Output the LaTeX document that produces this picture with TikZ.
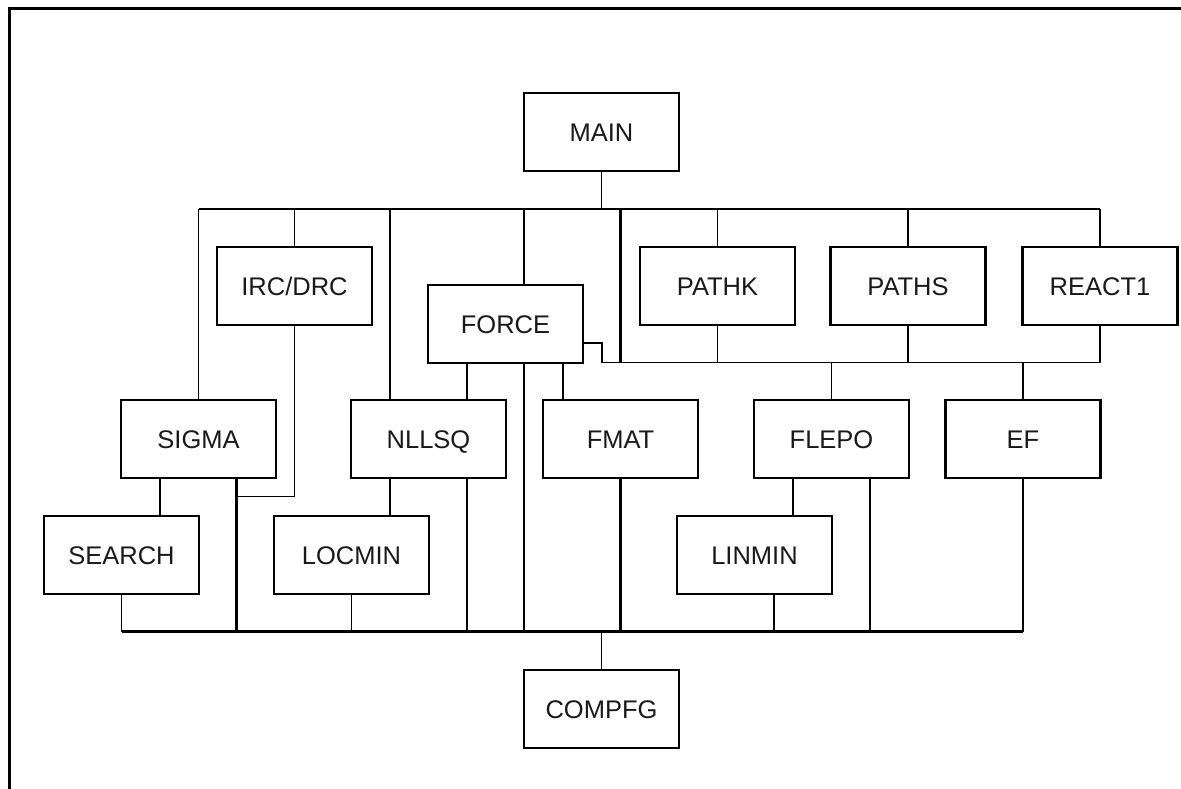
\documentclass[tikz,border=0pt]{standalone}
\usepackage{fontspec}
\setmainfont{Liberation Sans}
\usetikzlibrary{calc}
\begin{document}
\begin{tikzpicture}[x=1pt,y=-1pt,
  box/.style={draw, line width=2.2pt, minimum width=155pt, minimum height=78pt, inner sep=0pt,
    text height=18.3pt, text depth=0pt,
    font=\fontsize{25.5}{30}\selectfont, text=black!90},
  thinln/.style={line width=1.7pt},
  thickln/.style={line width=2.6pt},
  frameln/.style={line width=3pt}]
\useasboundingbox (0,0) rectangle (1181,789);
\draw[frameln] (9.5,789) -- (9.5,8.5) -- (1181,8.5);

% bus levels
\coordinate (tb) at (0,209);
\coordinate (lb) at (0,362.5);
\coordinate (bb) at (0,631.5);
\coordinate (ib) at (0,496.5);

% nodes
\node[box] (main) at (601.5,132) {MAIN};
\node[box] (irc) at (294.5,286) {IRC/DRC};
\node[box] (force) at (505.5,324) {FORCE};
\node[box] (pathk) at (717.5,286) {PATHK};
\node[box] (paths) at (908,286) {PATHS};
\node[box] (react) at (1100,286) {REACT1};
\node[box] (sigma) at (198.5,439) {SIGMA};
\node[box] (nllsq) at (428.5,439) {NLLSQ};
\node[box] (fmat) at (620.5,439) {FMAT};
\node[box] (flepo) at (831.5,439) {FLEPO};
\node[box] (ef) at (1023,439) {EF};
\node[box] (search) at (121.5,555) {SEARCH};
\node[box] (locmin) at (351.5,555) {LOCMIN};
\node[box] (linmin) at (754.5,555) {LINMIN};
\node[box] (compfg) at (601.5,709) {COMPFG};

% top bus
\draw[thinln] (sigma.north |- tb) -- (react.north |- tb);
\draw[thinln] (main.south) -- (main.south |- tb);
\draw[thinln] (sigma.north) -- (sigma.north |- tb);
\draw[thinln] (irc.north) -- (irc.north |- tb);
\draw[thinln] ([xshift=-38.5pt]nllsq.north) -- ([xshift=-38.5pt]nllsq.north |- tb);
\draw[thickln] ([xshift=18.5pt]force.north) -- ([xshift=18.5pt]force.north |- tb);
\draw[thickln] (fmat.north |- tb) -- (fmat.north |- lb);
\draw[thinln] (pathk.north) -- (pathk.north |- tb);
\draw[thinln] (paths.north) -- (paths.north |- tb);
\draw[thickln] (react.north) -- (react.north |- tb);

% lower right bus
\draw[thinln] ($(force.east)+(0,19)$) -- ($(force.east)+(18,19)$) -- ($(force.east |- lb)+(18,0)$) -- (react.south |- lb);
\draw[thinln] (pathk.south) -- (pathk.south |- lb);
\draw[thinln] (paths.south) -- (paths.south |- lb);
\draw[thickln] (react.south) -- (react.south |- lb);
\draw[thinln] (flepo.north |- lb) -- (flepo.north);
\draw[thinln] (ef.north |- lb) -- (ef.north);

% IRC/DRC down
\draw[thinln] (irc.south) -- (irc.south |- ib) -- ([xshift=38.2pt]sigma.south |- ib);
\draw[thickln] ([xshift=38.2pt]sigma.south) -- ([xshift=38.2pt]sigma.south |- bb);

% second level links
\draw[thinln] ([xshift=-38.5pt]sigma.south) -- ([xshift=-38.5pt]sigma.south |- search.north);
\draw[thinln] ([xshift=-38.5pt]nllsq.south) -- ([xshift=-38.5pt]nllsq.south |- locmin.north);
\draw[thinln] ([xshift=-38.5pt]force.south) -- ([xshift=-38.5pt]force.south |- nllsq.north);
\draw[thinln] ([xshift=57.5pt]force.south) -- ([xshift=57.5pt]force.south |- fmat.north);
\draw[thinln] ([xshift=-38.8pt]flepo.south) -- ([xshift=-38.8pt]flepo.south |- linmin.north);

% drops to bottom bus
\draw[thinln] (search.south) -- (search.south |- bb);
\draw[thinln] (locmin.south) -- (locmin.south |- bb);
\draw[thinln] ([xshift=38.8pt]nllsq.south) -- ([xshift=38.8pt]nllsq.south |- bb);
\draw[thickln] ([xshift=18.5pt]force.south) -- ([xshift=18.5pt]force.south |- bb);
\draw[thickln] (fmat.south) -- (fmat.south |- bb);
\draw[thinln] ([xshift=19.5pt]linmin.south) -- ([xshift=19.5pt]linmin.south |- bb);
\draw[thinln] ([xshift=38.5pt]flepo.south) -- ([xshift=38.5pt]flepo.south |- bb);
\draw[thinln] (ef.south) -- (ef.south |- bb);

% bottom bus
\draw[thickln] (search.south |- bb) -- (ef.south |- bb);
\draw[thinln] (compfg.north) -- (compfg.north |- bb);
\end{tikzpicture}
\end{document}
